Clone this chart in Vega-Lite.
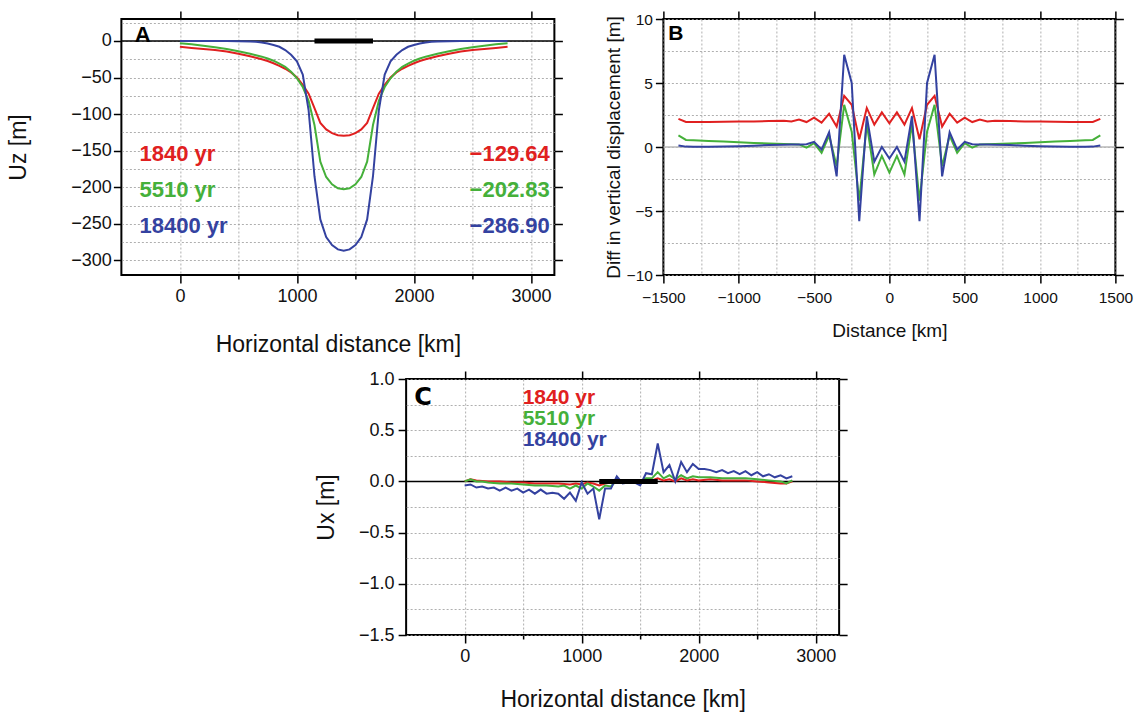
{
  "$schema": "https://vega.github.io/schema/vega-lite/v6.json",
  "background": "white",
  "padding": {"left": 6, "top": 9, "right": 0, "bottom": 0},
  "spacing": 12,
  "center": true,
  "config": {
    "view": {"stroke": "black", "strokeWidth": 2},
    "font": "Liberation Sans",
    "axis": {
      "domain": false,
      "grid": true,
      "gridColor": "#9a9a9a",
      "gridDash": [2, 2],
      "gridWidth": 0.8,
      "tickColor": "black",
      "tickWidth": 1.5,
      "tickSize": 8,
      "labelFlush": false,
      "labelFont": "Liberation Sans",
      "titleFont": "Liberation Sans",
      "labelColor": "#111111",
      "titleColor": "#111111",
      "titleFontWeight": "normal"
    }
  },
  "datasets": {
    "uz": [
      {"yr": "1840 yr", "x": 0, "y": -8}, {"yr": "1840 yr", "x": 100, "y": -9.5}, {"yr": "1840 yr", "x": 200, "y": -11}, {"yr": "1840 yr", "x": 300, "y": -12.5}, {"yr": "1840 yr", "x": 400, "y": -14.5}, {"yr": "1840 yr", "x": 500, "y": -17.5}, {"yr": "1840 yr", "x": 600, "y": -21}, {"yr": "1840 yr", "x": 650, "y": -23}, {"yr": "1840 yr", "x": 700, "y": -25}, {"yr": "1840 yr", "x": 750, "y": -27.5}, {"yr": "1840 yr", "x": 800, "y": -30.5}, {"yr": "1840 yr", "x": 850, "y": -34}, {"yr": "1840 yr", "x": 900, "y": -38}, {"yr": "1840 yr", "x": 950, "y": -43}, {"yr": "1840 yr", "x": 1000, "y": -50}, {"yr": "1840 yr", "x": 1050, "y": -60}, {"yr": "1840 yr", "x": 1100, "y": -72}, {"yr": "1840 yr", "x": 1150, "y": -92}, {"yr": "1840 yr", "x": 1200, "y": -112}, {"yr": "1840 yr", "x": 1250, "y": -121}, {"yr": "1840 yr", "x": 1300, "y": -126}, {"yr": "1840 yr", "x": 1350, "y": -128.8}, {"yr": "1840 yr", "x": 1400, "y": -129.64},
      {"yr": "1840 yr", "x": 1450, "y": -128.8}, {"yr": "1840 yr", "x": 1500, "y": -126}, {"yr": "1840 yr", "x": 1550, "y": -121}, {"yr": "1840 yr", "x": 1600, "y": -112}, {"yr": "1840 yr", "x": 1650, "y": -92}, {"yr": "1840 yr", "x": 1700, "y": -72}, {"yr": "1840 yr", "x": 1750, "y": -60}, {"yr": "1840 yr", "x": 1800, "y": -50}, {"yr": "1840 yr", "x": 1850, "y": -43}, {"yr": "1840 yr", "x": 1900, "y": -38}, {"yr": "1840 yr", "x": 1950, "y": -34}, {"yr": "1840 yr", "x": 2000, "y": -30.5}, {"yr": "1840 yr", "x": 2050, "y": -27.5}, {"yr": "1840 yr", "x": 2100, "y": -25}, {"yr": "1840 yr", "x": 2150, "y": -23}, {"yr": "1840 yr", "x": 2200, "y": -21}, {"yr": "1840 yr", "x": 2300, "y": -17.5}, {"yr": "1840 yr", "x": 2400, "y": -14.5}, {"yr": "1840 yr", "x": 2500, "y": -12.5}, {"yr": "1840 yr", "x": 2600, "y": -11}, {"yr": "1840 yr", "x": 2700, "y": -9.5}, {"yr": "1840 yr", "x": 2800, "y": -8},
      {"yr": "5510 yr", "x": 0, "y": -3}, {"yr": "5510 yr", "x": 100, "y": -4.5}, {"yr": "5510 yr", "x": 200, "y": -6.5}, {"yr": "5510 yr", "x": 300, "y": -8.5}, {"yr": "5510 yr", "x": 400, "y": -11}, {"yr": "5510 yr", "x": 500, "y": -14}, {"yr": "5510 yr", "x": 600, "y": -17.5}, {"yr": "5510 yr", "x": 650, "y": -19.5}, {"yr": "5510 yr", "x": 700, "y": -21.5}, {"yr": "5510 yr", "x": 750, "y": -24}, {"yr": "5510 yr", "x": 800, "y": -27}, {"yr": "5510 yr", "x": 850, "y": -31}, {"yr": "5510 yr", "x": 900, "y": -35.5}, {"yr": "5510 yr", "x": 950, "y": -42}, {"yr": "5510 yr", "x": 1000, "y": -51}, {"yr": "5510 yr", "x": 1050, "y": -63}, {"yr": "5510 yr", "x": 1100, "y": -82}, {"yr": "5510 yr", "x": 1150, "y": -115}, {"yr": "5510 yr", "x": 1200, "y": -165}, {"yr": "5510 yr", "x": 1250, "y": -186}, {"yr": "5510 yr", "x": 1300, "y": -196}, {"yr": "5510 yr", "x": 1350, "y": -201.5}, {"yr": "5510 yr", "x": 1400, "y": -202.83},
      {"yr": "5510 yr", "x": 1450, "y": -201.5}, {"yr": "5510 yr", "x": 1500, "y": -196}, {"yr": "5510 yr", "x": 1550, "y": -186}, {"yr": "5510 yr", "x": 1600, "y": -165}, {"yr": "5510 yr", "x": 1650, "y": -115}, {"yr": "5510 yr", "x": 1700, "y": -82}, {"yr": "5510 yr", "x": 1750, "y": -63}, {"yr": "5510 yr", "x": 1800, "y": -51}, {"yr": "5510 yr", "x": 1850, "y": -42}, {"yr": "5510 yr", "x": 1900, "y": -35.5}, {"yr": "5510 yr", "x": 1950, "y": -31}, {"yr": "5510 yr", "x": 2000, "y": -27}, {"yr": "5510 yr", "x": 2050, "y": -24}, {"yr": "5510 yr", "x": 2100, "y": -21.5}, {"yr": "5510 yr", "x": 2150, "y": -19.5}, {"yr": "5510 yr", "x": 2200, "y": -17.5}, {"yr": "5510 yr", "x": 2300, "y": -14}, {"yr": "5510 yr", "x": 2400, "y": -11}, {"yr": "5510 yr", "x": 2500, "y": -8.5}, {"yr": "5510 yr", "x": 2600, "y": -6.5}, {"yr": "5510 yr", "x": 2700, "y": -4.5}, {"yr": "5510 yr", "x": 2800, "y": -3},
      {"yr": "18400 yr", "x": 0, "y": 0}, {"yr": "18400 yr", "x": 100, "y": 0}, {"yr": "18400 yr", "x": 200, "y": 0}, {"yr": "18400 yr", "x": 300, "y": 0}, {"yr": "18400 yr", "x": 400, "y": 0}, {"yr": "18400 yr", "x": 500, "y": -0.3}, {"yr": "18400 yr", "x": 600, "y": -0.8}, {"yr": "18400 yr", "x": 650, "y": -1.2}, {"yr": "18400 yr", "x": 700, "y": -2}, {"yr": "18400 yr", "x": 750, "y": -3.5}, {"yr": "18400 yr", "x": 800, "y": -5.5}, {"yr": "18400 yr", "x": 850, "y": -8}, {"yr": "18400 yr", "x": 900, "y": -12.5}, {"yr": "18400 yr", "x": 950, "y": -19}, {"yr": "18400 yr", "x": 1000, "y": -28}, {"yr": "18400 yr", "x": 1050, "y": -46}, {"yr": "18400 yr", "x": 1100, "y": -95}, {"yr": "18400 yr", "x": 1150, "y": -185}, {"yr": "18400 yr", "x": 1200, "y": -244}, {"yr": "18400 yr", "x": 1250, "y": -268}, {"yr": "18400 yr", "x": 1300, "y": -279}, {"yr": "18400 yr", "x": 1350, "y": -285}, {"yr": "18400 yr", "x": 1400, "y": -286.9},
      {"yr": "18400 yr", "x": 1450, "y": -285}, {"yr": "18400 yr", "x": 1500, "y": -279}, {"yr": "18400 yr", "x": 1550, "y": -268}, {"yr": "18400 yr", "x": 1600, "y": -244}, {"yr": "18400 yr", "x": 1650, "y": -185}, {"yr": "18400 yr", "x": 1700, "y": -95}, {"yr": "18400 yr", "x": 1750, "y": -46}, {"yr": "18400 yr", "x": 1800, "y": -28}, {"yr": "18400 yr", "x": 1850, "y": -19}, {"yr": "18400 yr", "x": 1900, "y": -12.5}, {"yr": "18400 yr", "x": 1950, "y": -8}, {"yr": "18400 yr", "x": 2000, "y": -5.5}, {"yr": "18400 yr", "x": 2050, "y": -3.5}, {"yr": "18400 yr", "x": 2100, "y": -2}, {"yr": "18400 yr", "x": 2150, "y": -1.2}, {"yr": "18400 yr", "x": 2200, "y": -0.8}, {"yr": "18400 yr", "x": 2300, "y": -0.3}, {"yr": "18400 yr", "x": 2400, "y": 0}, {"yr": "18400 yr", "x": 2500, "y": 0}, {"yr": "18400 yr", "x": 2600, "y": 0}, {"yr": "18400 yr", "x": 2700, "y": 0}, {"yr": "18400 yr", "x": 2800, "y": 0}
    ],
    "diff": [
      {"yr": "1840 yr", "x": -1400, "y": 2.2}, {"yr": "1840 yr", "x": -1350, "y": 1.95}, {"yr": "1840 yr", "x": -1300, "y": 1.95}, {"yr": "1840 yr", "x": -1200, "y": 1.95}, {"yr": "1840 yr", "x": -1100, "y": 1.97}, {"yr": "1840 yr", "x": -1000, "y": 2.0}, {"yr": "1840 yr", "x": -900, "y": 2.0}, {"yr": "1840 yr", "x": -800, "y": 2.03}, {"yr": "1840 yr", "x": -700, "y": 2.05}, {"yr": "1840 yr", "x": -650, "y": 2.0}, {"yr": "1840 yr", "x": -600, "y": 2.15}, {"yr": "1840 yr", "x": -550, "y": 1.95}, {"yr": "1840 yr", "x": -500, "y": 2.3}, {"yr": "1840 yr", "x": -450, "y": 1.9}, {"yr": "1840 yr", "x": -400, "y": 2.6}, {"yr": "1840 yr", "x": -350, "y": 1.6}, {"yr": "1840 yr", "x": -300, "y": 4.0}, {"yr": "1840 yr", "x": -250, "y": 3.3}, {"yr": "1840 yr", "x": -200, "y": 0.6}, {"yr": "1840 yr", "x": -150, "y": 3.05}, {"yr": "1840 yr", "x": -100, "y": 1.75}, {"yr": "1840 yr", "x": -50, "y": 2.7}, {"yr": "1840 yr", "x": 0, "y": 1.85},
      {"yr": "1840 yr", "x": 50, "y": 2.7}, {"yr": "1840 yr", "x": 100, "y": 1.75}, {"yr": "1840 yr", "x": 150, "y": 3.05}, {"yr": "1840 yr", "x": 200, "y": 0.6}, {"yr": "1840 yr", "x": 250, "y": 3.3}, {"yr": "1840 yr", "x": 300, "y": 4.0}, {"yr": "1840 yr", "x": 350, "y": 1.6}, {"yr": "1840 yr", "x": 400, "y": 2.6}, {"yr": "1840 yr", "x": 450, "y": 1.9}, {"yr": "1840 yr", "x": 500, "y": 2.3}, {"yr": "1840 yr", "x": 550, "y": 1.95}, {"yr": "1840 yr", "x": 600, "y": 2.15}, {"yr": "1840 yr", "x": 650, "y": 2.0}, {"yr": "1840 yr", "x": 700, "y": 2.05}, {"yr": "1840 yr", "x": 800, "y": 2.03}, {"yr": "1840 yr", "x": 900, "y": 2.0}, {"yr": "1840 yr", "x": 1000, "y": 2.0}, {"yr": "1840 yr", "x": 1100, "y": 1.97}, {"yr": "1840 yr", "x": 1200, "y": 1.95}, {"yr": "1840 yr", "x": 1300, "y": 1.95}, {"yr": "1840 yr", "x": 1350, "y": 1.95}, {"yr": "1840 yr", "x": 1400, "y": 2.2},
      {"yr": "5510 yr", "x": -1400, "y": 0.9}, {"yr": "5510 yr", "x": -1350, "y": 0.55}, {"yr": "5510 yr", "x": -1300, "y": 0.52}, {"yr": "5510 yr", "x": -1200, "y": 0.47}, {"yr": "5510 yr", "x": -1100, "y": 0.42}, {"yr": "5510 yr", "x": -1000, "y": 0.37}, {"yr": "5510 yr", "x": -900, "y": 0.32}, {"yr": "5510 yr", "x": -800, "y": 0.28}, {"yr": "5510 yr", "x": -700, "y": 0.24}, {"yr": "5510 yr", "x": -650, "y": 0.22}, {"yr": "5510 yr", "x": -600, "y": 0.2}, {"yr": "5510 yr", "x": -550, "y": -0.05}, {"yr": "5510 yr", "x": -500, "y": 0.3}, {"yr": "5510 yr", "x": -450, "y": -0.45}, {"yr": "5510 yr", "x": -400, "y": 0.9}, {"yr": "5510 yr", "x": -350, "y": -1.5}, {"yr": "5510 yr", "x": -300, "y": 3.3}, {"yr": "5510 yr", "x": -250, "y": 1.2}, {"yr": "5510 yr", "x": -200, "y": -4.2}, {"yr": "5510 yr", "x": -150, "y": 1.8}, {"yr": "5510 yr", "x": -100, "y": -2.15}, {"yr": "5510 yr", "x": -50, "y": -0.7}, {"yr": "5510 yr", "x": 0, "y": -2.0},
      {"yr": "5510 yr", "x": 50, "y": -0.7}, {"yr": "5510 yr", "x": 100, "y": -2.15}, {"yr": "5510 yr", "x": 150, "y": 1.8}, {"yr": "5510 yr", "x": 200, "y": -4.2}, {"yr": "5510 yr", "x": 250, "y": 1.2}, {"yr": "5510 yr", "x": 300, "y": 3.3}, {"yr": "5510 yr", "x": 350, "y": -1.5}, {"yr": "5510 yr", "x": 400, "y": 0.9}, {"yr": "5510 yr", "x": 450, "y": -0.45}, {"yr": "5510 yr", "x": 500, "y": 0.3}, {"yr": "5510 yr", "x": 550, "y": -0.05}, {"yr": "5510 yr", "x": 600, "y": 0.2}, {"yr": "5510 yr", "x": 650, "y": 0.22}, {"yr": "5510 yr", "x": 700, "y": 0.24}, {"yr": "5510 yr", "x": 800, "y": 0.28}, {"yr": "5510 yr", "x": 900, "y": 0.32}, {"yr": "5510 yr", "x": 1000, "y": 0.37}, {"yr": "5510 yr", "x": 1100, "y": 0.42}, {"yr": "5510 yr", "x": 1200, "y": 0.47}, {"yr": "5510 yr", "x": 1300, "y": 0.52}, {"yr": "5510 yr", "x": 1350, "y": 0.55}, {"yr": "5510 yr", "x": 1400, "y": 0.9},
      {"yr": "18400 yr", "x": -1400, "y": 0.12}, {"yr": "18400 yr", "x": -1350, "y": 0.03}, {"yr": "18400 yr", "x": -1300, "y": 0.02}, {"yr": "18400 yr", "x": -1200, "y": 0.02}, {"yr": "18400 yr", "x": -1100, "y": 0.03}, {"yr": "18400 yr", "x": -1000, "y": 0.06}, {"yr": "18400 yr", "x": -900, "y": 0.1}, {"yr": "18400 yr", "x": -800, "y": 0.15}, {"yr": "18400 yr", "x": -700, "y": 0.18}, {"yr": "18400 yr", "x": -650, "y": 0.2}, {"yr": "18400 yr", "x": -600, "y": 0.2}, {"yr": "18400 yr", "x": -550, "y": 0.22}, {"yr": "18400 yr", "x": -500, "y": 0.4}, {"yr": "18400 yr", "x": -450, "y": -0.2}, {"yr": "18400 yr", "x": -400, "y": 1.15}, {"yr": "18400 yr", "x": -350, "y": -2.3}, {"yr": "18400 yr", "x": -300, "y": 7.2}, {"yr": "18400 yr", "x": -250, "y": 5.0}, {"yr": "18400 yr", "x": -200, "y": -5.8}, {"yr": "18400 yr", "x": -150, "y": 2.4}, {"yr": "18400 yr", "x": -100, "y": -1.15}, {"yr": "18400 yr", "x": -50, "y": 0.0}, {"yr": "18400 yr", "x": 0, "y": -0.9},
      {"yr": "18400 yr", "x": 50, "y": 0.0}, {"yr": "18400 yr", "x": 100, "y": -1.15}, {"yr": "18400 yr", "x": 150, "y": 2.4}, {"yr": "18400 yr", "x": 200, "y": -5.8}, {"yr": "18400 yr", "x": 250, "y": 5.0}, {"yr": "18400 yr", "x": 300, "y": 7.2}, {"yr": "18400 yr", "x": 350, "y": -2.3}, {"yr": "18400 yr", "x": 400, "y": 1.15}, {"yr": "18400 yr", "x": 450, "y": -0.2}, {"yr": "18400 yr", "x": 500, "y": 0.4}, {"yr": "18400 yr", "x": 550, "y": 0.22}, {"yr": "18400 yr", "x": 600, "y": 0.2}, {"yr": "18400 yr", "x": 650, "y": 0.2}, {"yr": "18400 yr", "x": 700, "y": 0.18}, {"yr": "18400 yr", "x": 800, "y": 0.15}, {"yr": "18400 yr", "x": 900, "y": 0.1}, {"yr": "18400 yr", "x": 1000, "y": 0.06}, {"yr": "18400 yr", "x": 1100, "y": 0.03}, {"yr": "18400 yr", "x": 1200, "y": 0.02}, {"yr": "18400 yr", "x": 1300, "y": 0.02}, {"yr": "18400 yr", "x": 1350, "y": 0.03}, {"yr": "18400 yr", "x": 1400, "y": 0.12}
    ],
    "ux": [
      {"yr": "1840 yr", "x": 0, "y": 0.0}, {"yr": "1840 yr", "x": 50, "y": 0.02}, {"yr": "1840 yr", "x": 100, "y": 0.01}, {"yr": "1840 yr", "x": 200, "y": 0.0}, {"yr": "1840 yr", "x": 300, "y": 0.0}, {"yr": "1840 yr", "x": 400, "y": -0.01}, {"yr": "1840 yr", "x": 500, "y": -0.01}, {"yr": "1840 yr", "x": 600, "y": -0.02}, {"yr": "1840 yr", "x": 700, "y": -0.02}, {"yr": "1840 yr", "x": 800, "y": -0.02}, {"yr": "1840 yr", "x": 900, "y": -0.03}, {"yr": "1840 yr", "x": 950, "y": -0.02}, {"yr": "1840 yr", "x": 1000, "y": -0.03}, {"yr": "1840 yr", "x": 1050, "y": -0.01}, {"yr": "1840 yr", "x": 1100, "y": -0.02}, {"yr": "1840 yr", "x": 1150, "y": -0.04}, {"yr": "1840 yr", "x": 1200, "y": -0.02}, {"yr": "1840 yr", "x": 1300, "y": 0.0}, {"yr": "1840 yr", "x": 1400, "y": 0.0}, {"yr": "1840 yr", "x": 1500, "y": 0.0}, {"yr": "1840 yr", "x": 1600, "y": 0.01}, {"yr": "1840 yr", "x": 1650, "y": 0.03}, {"yr": "1840 yr", "x": 1700, "y": 0.01}, {"yr": "1840 yr", "x": 1750, "y": 0.02}, {"yr": "1840 yr", "x": 1800, "y": 0.0}, {"yr": "1840 yr", "x": 1850, "y": 0.03}, {"yr": "1840 yr", "x": 1900, "y": 0.01}, {"yr": "1840 yr", "x": 1950, "y": 0.02}, {"yr": "1840 yr", "x": 2000, "y": 0.01}, {"yr": "1840 yr", "x": 2100, "y": 0.02}, {"yr": "1840 yr", "x": 2200, "y": 0.01}, {"yr": "1840 yr", "x": 2300, "y": 0.01}, {"yr": "1840 yr", "x": 2400, "y": 0.01}, {"yr": "1840 yr", "x": 2500, "y": 0.0}, {"yr": "1840 yr", "x": 2600, "y": -0.01}, {"yr": "1840 yr", "x": 2700, "y": -0.02}, {"yr": "1840 yr", "x": 2750, "y": -0.02}, {"yr": "1840 yr", "x": 2800, "y": 0.0},
      {"yr": "5510 yr", "x": 0, "y": 0.0}, {"yr": "5510 yr", "x": 50, "y": 0.02}, {"yr": "5510 yr", "x": 100, "y": 0.0}, {"yr": "5510 yr", "x": 150, "y": 0.0}, {"yr": "5510 yr", "x": 200, "y": -0.01}, {"yr": "5510 yr", "x": 300, "y": -0.02}, {"yr": "5510 yr", "x": 400, "y": -0.02}, {"yr": "5510 yr", "x": 500, "y": -0.03}, {"yr": "5510 yr", "x": 600, "y": -0.04}, {"yr": "5510 yr", "x": 700, "y": -0.04}, {"yr": "5510 yr", "x": 800, "y": -0.05}, {"yr": "5510 yr", "x": 850, "y": -0.04}, {"yr": "5510 yr", "x": 900, "y": -0.07}, {"yr": "5510 yr", "x": 950, "y": -0.04}, {"yr": "5510 yr", "x": 1000, "y": -0.07}, {"yr": "5510 yr", "x": 1050, "y": -0.02}, {"yr": "5510 yr", "x": 1100, "y": -0.05}, {"yr": "5510 yr", "x": 1150, "y": -0.09}, {"yr": "5510 yr", "x": 1200, "y": -0.04}, {"yr": "5510 yr", "x": 1250, "y": -0.05}, {"yr": "5510 yr", "x": 1300, "y": 0.01}, {"yr": "5510 yr", "x": 1400, "y": 0.0}, {"yr": "5510 yr", "x": 1500, "y": 0.0}, {"yr": "5510 yr", "x": 1550, "y": 0.03}, {"yr": "5510 yr", "x": 1600, "y": 0.03}, {"yr": "5510 yr", "x": 1650, "y": 0.09}, {"yr": "5510 yr", "x": 1700, "y": 0.03}, {"yr": "5510 yr", "x": 1750, "y": 0.06}, {"yr": "5510 yr", "x": 1800, "y": 0.02}, {"yr": "5510 yr", "x": 1850, "y": 0.06}, {"yr": "5510 yr", "x": 1900, "y": 0.03}, {"yr": "5510 yr", "x": 1950, "y": 0.05}, {"yr": "5510 yr", "x": 2000, "y": 0.04}, {"yr": "5510 yr", "x": 2100, "y": 0.04}, {"yr": "5510 yr", "x": 2200, "y": 0.03}, {"yr": "5510 yr", "x": 2300, "y": 0.03}, {"yr": "5510 yr", "x": 2400, "y": 0.03}, {"yr": "5510 yr", "x": 2500, "y": 0.02}, {"yr": "5510 yr", "x": 2600, "y": 0.01}, {"yr": "5510 yr", "x": 2700, "y": 0.0}, {"yr": "5510 yr", "x": 2750, "y": -0.02}, {"yr": "5510 yr", "x": 2800, "y": 0.01},
      {"yr": "18400 yr", "x": 0, "y": -0.04}, {"yr": "18400 yr", "x": 50, "y": -0.03}, {"yr": "18400 yr", "x": 100, "y": -0.06}, {"yr": "18400 yr", "x": 150, "y": -0.05}, {"yr": "18400 yr", "x": 200, "y": -0.07}, {"yr": "18400 yr", "x": 250, "y": -0.06}, {"yr": "18400 yr", "x": 300, "y": -0.09}, {"yr": "18400 yr", "x": 350, "y": -0.06}, {"yr": "18400 yr", "x": 400, "y": -0.09}, {"yr": "18400 yr", "x": 450, "y": -0.07}, {"yr": "18400 yr", "x": 500, "y": -0.11}, {"yr": "18400 yr", "x": 550, "y": -0.08}, {"yr": "18400 yr", "x": 600, "y": -0.12}, {"yr": "18400 yr", "x": 650, "y": -0.08}, {"yr": "18400 yr", "x": 700, "y": -0.12}, {"yr": "18400 yr", "x": 750, "y": -0.11}, {"yr": "18400 yr", "x": 800, "y": -0.12}, {"yr": "18400 yr", "x": 850, "y": -0.17}, {"yr": "18400 yr", "x": 900, "y": -0.11}, {"yr": "18400 yr", "x": 950, "y": -0.19}, {"yr": "18400 yr", "x": 1000, "y": -0.01}, {"yr": "18400 yr", "x": 1050, "y": -0.12}, {"yr": "18400 yr", "x": 1100, "y": -0.07}, {"yr": "18400 yr", "x": 1150, "y": -0.37}, {"yr": "18400 yr", "x": 1200, "y": -0.07}, {"yr": "18400 yr", "x": 1250, "y": -0.07}, {"yr": "18400 yr", "x": 1300, "y": 0.05}, {"yr": "18400 yr", "x": 1350, "y": -0.02}, {"yr": "18400 yr", "x": 1400, "y": -0.01}, {"yr": "18400 yr", "x": 1450, "y": -0.01}, {"yr": "18400 yr", "x": 1500, "y": -0.04}, {"yr": "18400 yr", "x": 1550, "y": 0.08}, {"yr": "18400 yr", "x": 1600, "y": 0.07}, {"yr": "18400 yr", "x": 1650, "y": 0.37}, {"yr": "18400 yr", "x": 1700, "y": 0.09}, {"yr": "18400 yr", "x": 1750, "y": 0.16}, {"yr": "18400 yr", "x": 1800, "y": 0.0}, {"yr": "18400 yr", "x": 1850, "y": 0.19}, {"yr": "18400 yr", "x": 1900, "y": 0.09}, {"yr": "18400 yr", "x": 1950, "y": 0.17}, {"yr": "18400 yr", "x": 2000, "y": 0.12}, {"yr": "18400 yr", "x": 2050, "y": 0.12}, {"yr": "18400 yr", "x": 2100, "y": 0.11}, {"yr": "18400 yr", "x": 2150, "y": 0.09}, {"yr": "18400 yr", "x": 2200, "y": 0.11}, {"yr": "18400 yr", "x": 2250, "y": 0.08}, {"yr": "18400 yr", "x": 2300, "y": 0.1}, {"yr": "18400 yr", "x": 2350, "y": 0.07}, {"yr": "18400 yr", "x": 2400, "y": 0.1}, {"yr": "18400 yr", "x": 2450, "y": 0.06}, {"yr": "18400 yr", "x": 2500, "y": 0.09}, {"yr": "18400 yr", "x": 2550, "y": 0.05}, {"yr": "18400 yr", "x": 2600, "y": 0.07}, {"yr": "18400 yr", "x": 2650, "y": 0.04}, {"yr": "18400 yr", "x": 2700, "y": 0.06}, {"yr": "18400 yr", "x": 2750, "y": 0.03}, {"yr": "18400 yr", "x": 2800, "y": 0.05}
    ]
  },
  "vconcat": [
    {
      "spacing": 38,
      "hconcat": [
        {
          "width": 433,
          "height": 256,
          "resolve": {"axis": {"x": "independent", "y": "independent"}},
          "layer": [
            {
              "data": {"values": [{"y": 0}]},
              "mark": {"type": "rule", "color": "black", "strokeWidth": 1.5},
              "encoding": {
                "y": {"field": "y", "type": "quantitative", "scale": {"domain": [-320, 30], "nice": false, "zero": false},
                  "axis": {"orient": "left", "title": "Uz [m]", "grid": true, "values": [-300, -275, -250, -225, -200, -175, -150, -125, -100, -75, -50, -25, 0, 25], "format": "d",
                    "labelExpr": "datum.value % 50 === 0 ? datum.label : ''",
                    "tickSize": {"condition": {"test": "datum.value % 50 !== 0", "value": 0}, "value": 8},
                    "labelFontSize": 18, "titleFontSize": 23, "labelPadding": 2, "titlePadding": 40}}
              }
            },
            {
              "data": {"name": "uz"},
              "mark": {"type": "line", "strokeWidth": 2, "clip": true},
              "encoding": {
                "x": {"field": "x", "type": "quantitative", "scale": {"domain": [-500, 3200], "nice": false, "zero": false},
                  "axis": {"orient": "bottom", "title": "Horizontal distance [km]", "grid": true, "values": [0, 500, 1000, 1500, 2000, 2500, 3000], "format": "d",
                    "labelExpr": "datum.value % 1000 === 0 ? datum.label : ''",
                    "tickSize": {"condition": {"test": "datum.value % 1000 !== 0", "value": 4}, "value": 8},
                    "labelFontSize": 18, "titleFontSize": 23, "labelPadding": 4, "titlePadding": 28}},
                "y": {"field": "y", "type": "quantitative", "scale": {"domain": [-320, 30], "nice": false, "zero": false}, "axis": null},
                "color": {"field": "yr", "type": "nominal", "scale": {"domain": ["1840 yr", "5510 yr", "18400 yr"], "range": ["#e02020", "#45b03a", "#3442a0"]}, "legend": null}
              }
            },
            {
              "data": {"values": [{"x1": 1150, "x2": 1650, "y": 0}]},
              "mark": {"type": "rule", "color": "black", "strokeWidth": 5},
              "encoding": {
                "x": {"field": "x1", "type": "quantitative", "scale": {"domain": [-500, 3200], "nice": false, "zero": false},
                  "axis": {"orient": "top", "values": [0, 1000, 2000, 3000], "labels": false, "grid": false, "title": null, "tickSize": 8}},
                "x2": {"field": "x2"},
                "y": {"field": "y", "type": "quantitative", "scale": {"domain": [-320, 30], "nice": false, "zero": false},
                  "axis": {"orient": "right", "values": [-300, -250, -200, -150, -100, -50, 0], "labels": false, "grid": false, "title": null, "tickSize": 8}}
              }
            },
            {
              "data": {"values": [
                {"t": "1840 yr", "yr": "1840 yr", "x": -345, "y": -155},
                {"t": "5510 yr", "yr": "5510 yr", "x": -345, "y": -204},
                {"t": "18400 yr", "yr": "18400 yr", "x": -345, "y": -253}
              ]},
              "mark": {"type": "text", "align": "left", "baseline": "middle", "fontSize": 22, "fontWeight": "bold", "font": "Liberation Sans"},
              "encoding": {
                "x": {"field": "x", "type": "quantitative", "scale": {"domain": [-500, 3200], "nice": false, "zero": false}, "axis": null},
                "y": {"field": "y", "type": "quantitative", "scale": {"domain": [-320, 30], "nice": false, "zero": false}, "axis": null},
                "text": {"field": "t"},
                "color": {"field": "yr", "type": "nominal", "scale": {"domain": ["1840 yr", "5510 yr", "18400 yr"], "range": ["#e02020", "#45b03a", "#3442a0"]}, "legend": null}
              }
            },
            {
              "data": {"values": [
                {"t": "−129.64", "yr": "1840 yr", "x": 3160, "y": -155},
                {"t": "−202.83", "yr": "5510 yr", "x": 3160, "y": -204},
                {"t": "−286.90", "yr": "18400 yr", "x": 3160, "y": -253}
              ]},
              "mark": {"type": "text", "align": "right", "baseline": "middle", "fontSize": 22, "fontWeight": "bold", "font": "Liberation Sans"},
              "encoding": {
                "x": {"field": "x", "type": "quantitative", "scale": {"domain": [-500, 3200], "nice": false, "zero": false}, "axis": null},
                "y": {"field": "y", "type": "quantitative", "scale": {"domain": [-320, 30], "nice": false, "zero": false}, "axis": null},
                "text": {"field": "t"},
                "color": {"field": "yr", "type": "nominal", "scale": {"domain": ["1840 yr", "5510 yr", "18400 yr"], "range": ["#e02020", "#45b03a", "#3442a0"]}, "legend": null}
              }
            },
            {
              "data": {"values": [{"t": "A", "x": -386, "y": 7.5}]},
              "mark": {"type": "text", "align": "left", "baseline": "middle", "fontSize": 22, "fontWeight": "bold", "font": "Liberation Sans", "color": "black"},
              "encoding": {
                "x": {"field": "x", "type": "quantitative", "scale": {"domain": [-500, 3200], "nice": false, "zero": false}, "axis": null},
                "y": {"field": "y", "type": "quantitative", "scale": {"domain": [-320, 30], "nice": false, "zero": false}, "axis": null},
                "text": {"field": "t"}
              }
            }
          ]
        },
        {
          "width": 452,
          "height": 256,
          "resolve": {"axis": {"x": "independent", "y": "independent"}},
          "layer": [
            {
              "data": {"values": [{"y": 0}]},
              "mark": {"type": "rule", "color": "#b8b8b8", "strokeWidth": 1.5},
              "encoding": {
                "y": {"field": "y", "type": "quantitative", "scale": {"domain": [-10, 10], "nice": false, "zero": false},
                  "axis": {"orient": "left", "title": "Diff in vertical displacement [m]", "grid": true, "values": [-10, -7.5, -5, -2.5, 0, 2.5, 5, 7.5, 10], "format": "d",
                    "labelExpr": "datum.value % 5 === 0 ? datum.label : ''",
                    "tickSize": {"condition": {"test": "datum.value % 5 !== 0", "value": 0}, "value": 8},
                    "labelFontSize": 15.5, "titleFontSize": 19, "labelPadding": 3, "titlePadding": 3}}
              }
            },
            {
              "data": {"name": "diff"},
              "mark": {"type": "line", "strokeWidth": 2, "clip": true},
              "encoding": {
                "x": {"field": "x", "type": "quantitative", "scale": {"domain": [-1500, 1500], "nice": false, "zero": false},
                  "axis": {"orient": "bottom", "title": "Distance [km]", "grid": true, "values": [-1500, -1250, -1000, -750, -500, -250, 0, 250, 500, 750, 1000, 1250, 1500], "format": "d",
                    "labelExpr": "datum.value % 500 === 0 ? datum.label : ''",
                    "tickSize": {"condition": {"test": "datum.value % 500 !== 0", "value": 0}, "value": 8},
                    "labelFontSize": 15.5, "titleFontSize": 19, "labelPadding": 7, "titlePadding": 16}},
                "y": {"field": "y", "type": "quantitative", "scale": {"domain": [-10, 10], "nice": false, "zero": false}, "axis": null},
                "color": {"field": "yr", "type": "nominal", "scale": {"domain": ["1840 yr", "5510 yr", "18400 yr"], "range": ["#e02020", "#45b03a", "#3442a0"]}, "legend": null}
              }
            },
            {
              "data": {"values": [{"x": 0, "y": 0}]},
              "mark": {"type": "point", "opacity": 0},
              "encoding": {
                "x": {"field": "x", "type": "quantitative", "scale": {"domain": [-1500, 1500], "nice": false, "zero": false},
                  "axis": {"orient": "top", "values": [-1500, -1000, -500, 0, 500, 1000, 1500], "labels": false, "grid": false, "title": null, "tickSize": 8}},
                "y": {"field": "y", "type": "quantitative", "scale": {"domain": [-10, 10], "nice": false, "zero": false},
                  "axis": {"orient": "right", "values": [-10, -5, 0, 5, 10], "labels": false, "grid": false, "title": null, "tickSize": 8}}
              }
            },
            {
              "data": {"values": [{"t": "B", "x": -1468, "y": 8.8}]},
              "mark": {"type": "text", "align": "left", "baseline": "middle", "fontSize": 21, "fontWeight": "bold", "font": "Liberation Sans", "color": "black"},
              "encoding": {
                "x": {"field": "x", "type": "quantitative", "scale": {"domain": [-1500, 1500], "nice": false, "zero": false}, "axis": null},
                "y": {"field": "y", "type": "quantitative", "scale": {"domain": [-10, 10], "nice": false, "zero": false}, "axis": null},
                "text": {"field": "t"}
              }
            }
          ]
        }
      ]
    },
    {
      "width": 433,
      "height": 256,
      "resolve": {"axis": {"x": "independent", "y": "independent"}},
      "layer": [
        {
          "data": {"values": [{"y": 0}]},
          "mark": {"type": "rule", "color": "black", "strokeWidth": 1.5},
          "encoding": {
            "y": {"field": "y", "type": "quantitative", "scale": {"domain": [-1.5, 1.0], "nice": false, "zero": false},
              "axis": {"orient": "left", "title": "Ux [m]", "grid": true, "values": [-1.5, -1.25, -1, -0.75, -0.5, -0.25, 0, 0.25, 0.5, 0.75, 1.0], "format": ".1f",
                "labelExpr": "abs(datum.value * 2 - round(datum.value * 2)) < 0.001 ? datum.label : ''",
                "tickSize": {"condition": {"test": "abs(datum.value * 2 - round(datum.value * 2)) > 0.001", "value": 0}, "value": 8},
                "labelFontSize": 18, "titleFontSize": 23, "labelPadding": 4, "titlePadding": 20}}
          }
        },
        {
          "data": {"name": "ux"},
          "mark": {"type": "line", "strokeWidth": 2, "clip": true},
          "encoding": {
            "x": {"field": "x", "type": "quantitative", "scale": {"domain": [-500, 3200], "nice": false, "zero": false},
              "axis": {"orient": "bottom", "title": "Horizontal distance [km]", "grid": true, "values": [0, 500, 1000, 1500, 2000, 2500, 3000], "format": "d",
                "labelExpr": "datum.value % 1000 === 0 ? datum.label : ''",
                "tickSize": {"condition": {"test": "datum.value % 1000 !== 0", "value": 4}, "value": 8},
                "labelFontSize": 18, "titleFontSize": 23, "labelPadding": 4, "titlePadding": 23}},
            "y": {"field": "y", "type": "quantitative", "scale": {"domain": [-1.5, 1.0], "nice": false, "zero": false}, "axis": null},
            "color": {"field": "yr", "type": "nominal", "scale": {"domain": ["1840 yr", "5510 yr", "18400 yr"], "range": ["#e02020", "#45b03a", "#3442a0"]}, "legend": null}
          }
        },
        {
          "data": {"values": [{"x1": 1150, "x2": 1650, "y": 0}]},
          "mark": {"type": "rule", "color": "black", "strokeWidth": 5},
          "encoding": {
            "x": {"field": "x1", "type": "quantitative", "scale": {"domain": [-500, 3200], "nice": false, "zero": false},
              "axis": {"orient": "top", "values": [0, 1000, 2000, 3000], "labels": false, "grid": false, "title": null, "tickSize": 8}},
            "x2": {"field": "x2"},
            "y": {"field": "y", "type": "quantitative", "scale": {"domain": [-1.5, 1.0], "nice": false, "zero": false},
              "axis": {"orient": "right", "values": [-1.5, -1, -0.5, 0, 0.5, 1.0], "labels": false, "grid": false, "title": null, "tickSize": 8}}
          }
        },
        {
          "data": {"values": [
            {"t": "1840 yr", "yr": "1840 yr", "x": 496, "y": 0.81},
            {"t": "5510 yr", "yr": "5510 yr", "x": 496, "y": 0.605},
            {"t": "18400 yr", "yr": "18400 yr", "x": 496, "y": 0.4}
          ]},
          "mark": {"type": "text", "align": "left", "baseline": "middle", "fontSize": 21, "fontWeight": "bold", "font": "Liberation Sans"},
          "encoding": {
            "x": {"field": "x", "type": "quantitative", "scale": {"domain": [-500, 3200], "nice": false, "zero": false}, "axis": null},
            "y": {"field": "y", "type": "quantitative", "scale": {"domain": [-1.5, 1.0], "nice": false, "zero": false}, "axis": null},
            "text": {"field": "t"},
            "color": {"field": "yr", "type": "nominal", "scale": {"domain": ["1840 yr", "5510 yr", "18400 yr"], "range": ["#e02020", "#45b03a", "#3442a0"]}, "legend": null}
          }
        },
        {
          "data": {"values": [{"t": "C", "x": -430, "y": 0.81}]},
          "mark": {"type": "text", "align": "left", "baseline": "middle", "fontSize": 24, "fontWeight": "bold", "font": "DejaVu Sans", "color": "black"},
          "encoding": {
            "x": {"field": "x", "type": "quantitative", "scale": {"domain": [-500, 3200], "nice": false, "zero": false}, "axis": null},
            "y": {"field": "y", "type": "quantitative", "scale": {"domain": [-1.5, 1.0], "nice": false, "zero": false}, "axis": null},
            "text": {"field": "t"}
          }
        }
      ]
    }
  ]
}
